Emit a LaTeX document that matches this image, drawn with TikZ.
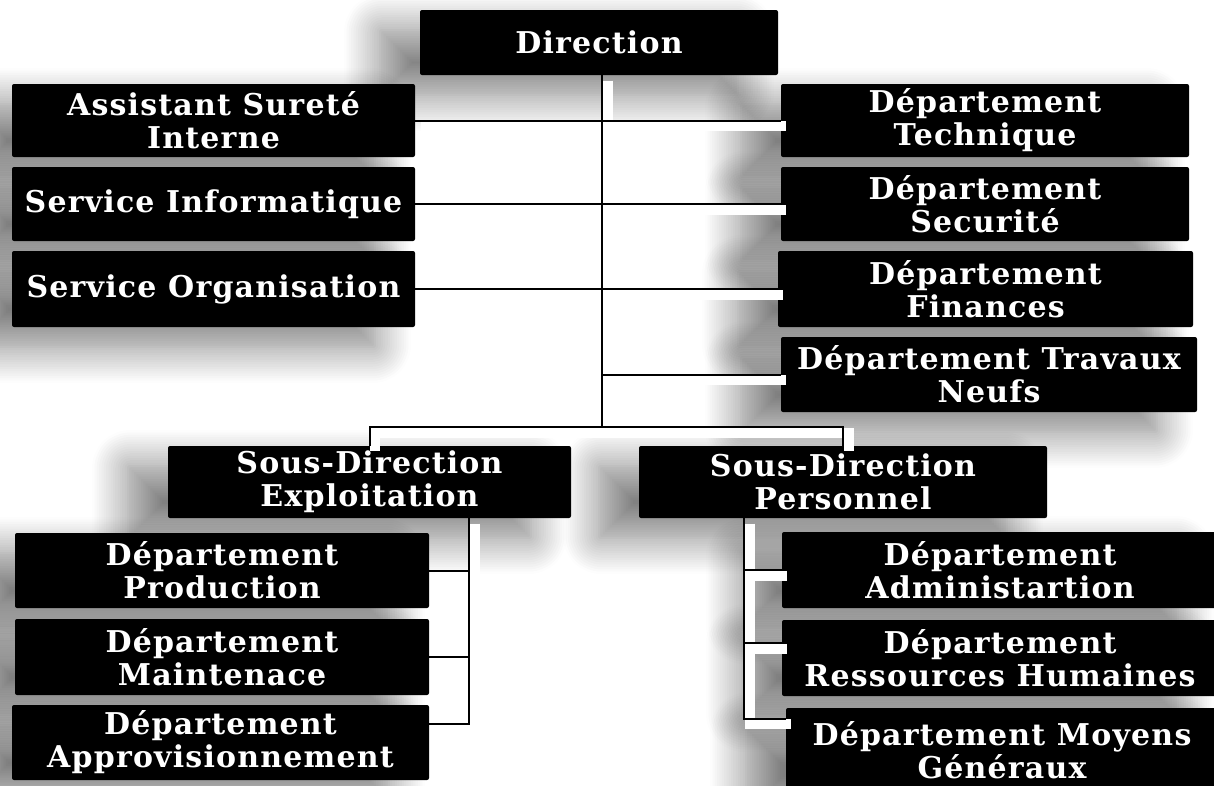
\documentclass[tikz,border=0pt]{standalone}
\usepackage{fontspec}
\setmainfont{DejaVu Serif}[LetterSpace=4]
\usetikzlibrary{shadows.blur}
\begin{document}
\begin{tikzpicture}[x=1pt,y=-1pt,
  box/.style={fill=black, rounded corners=2pt, text=white, align=center, inner sep=0pt,
    font=\fontsize{30}{33}\selectfont\bfseries,
    blur shadow={shadow xshift=-40pt, shadow yshift=-20pt, shadow blur radius=36pt, shadow opacity=50, shadow blur steps=16}},
  wire/.style={draw=black, line width=2pt},
  band/.style={draw=white, line width=10pt, transform canvas={xshift=5.5pt,yshift=-5.5pt}}]
\useasboundingbox (0,0) rectangle (1214,785);
\node[box, minimum width=358pt, minimum height=65pt] (dir) at (599,42.5) {Direction};
\node[box, minimum width=403pt, minimum height=73pt] (asi) at (213.5,120.5) {Assistant Sureté\\Interne};
\node[box, minimum width=408pt, minimum height=73pt] (dtech) at (985,120.5) {Département\\Technique};
\node[box, minimum width=403pt, minimum height=74pt] (sinf) at (213.5,204) {Service Informatique};
\node[box, minimum width=408pt, minimum height=74pt] (dsec) at (985,204) {Département\\Securité};
\node[box, minimum width=403pt, minimum height=76pt] (sorg) at (213.5,289) {Service Organisation};
\node[box, minimum width=415pt, minimum height=76pt] (dfin) at (985.5,289) {Département\\Finances};
\node[box, minimum width=416pt, minimum height=75pt] (dtn) at (989,374.5) {Département Travaux\\Neufs};
\node[box, minimum width=403pt, minimum height=72pt] (sde) at (369.5,482) {Sous-Direction\\Exploitation};
\node[box, minimum width=408pt, minimum height=72pt] (sdp) at (843,482) {Sous-Direction\\Personnel};
\node[box, minimum width=414pt, minimum height=75pt] (dprod) at (222,570.5) {Département\\Production};
\node[box, minimum width=436pt, minimum height=76pt] (dadm) at (1000,570) {Département\\Administartion};
\node[box, minimum width=414pt, minimum height=76pt] (dmaint) at (222,657) {Département\\Maintenace};
\node[box, minimum width=436pt, minimum height=76pt] (drh) at (1000,658) {Département\\Ressources Humaines};
\node[box, minimum width=417pt, minimum height=75pt] (dappro) at (220.5,742.5) {Département\\Approvisionnement};
\node[box, minimum width=432pt, minimum height=85pt] (dmg) at (1002,750.5) {Département Moyens\\Généraux};
\coordinate (tb) at (602,427);
\coordinate (ex) at (469,0);
\coordinate (px) at (744,0);
\def\connpaths{
 (dir.south -| tb) -- (tb)
 (asi.east) -- (asi.east -| tb)
 (sinf.east) -- (sinf.east -| tb)
 (sorg.east) -- (sorg.east -| tb)
 (dtech.west -| tb) -- (dtech.west)
 (dsec.west -| tb) -- (dsec.west)
 (dfin.west -| tb) -- (dfin.west)
 (dtn.west -| tb) -- (dtn.west)
 (tb) -| (sde.north)
 (tb) -| (sdp.north)
 (sde.south -| ex) |- (dprod.east)
 (sde.south -| ex) |- (dmaint.east)
 (sde.south -| ex) |- ([yshift=19pt]dappro.east)
 (sdp.south -| px) |- (dadm.west)
 (sdp.south -| px) |- ([yshift=15pt]drh.west)
 (sdp.south -| px) |- ([yshift=32pt]dmg.west)
}
\path[band] \connpaths;
\path[wire] \connpaths;
\end{tikzpicture}
\end{document}
